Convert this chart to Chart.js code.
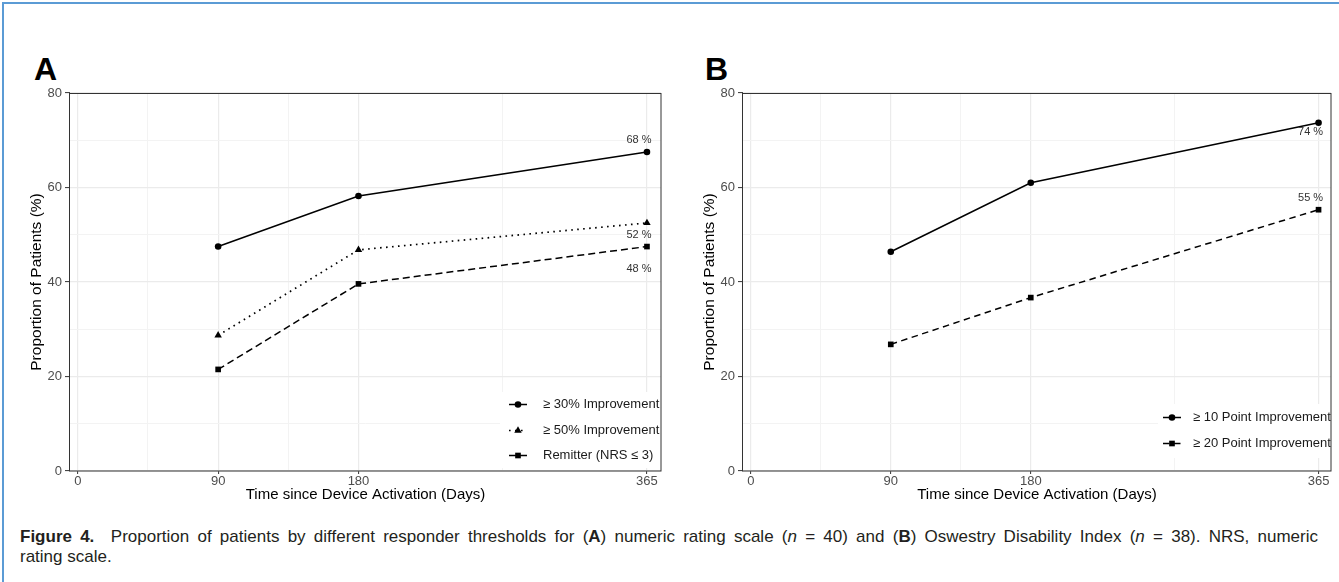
<!DOCTYPE html>
<html>
<head>
<meta charset="utf-8">
<script src="https://cdn.jsdelivr.net/npm/chart.js@4.4.0/dist/chart.umd.min.js"></script>
<style>
  body { margin: 0; width: 1339px; height: 582px; overflow: hidden; position: relative; background: #fff;
         font-family: 'Liberation Sans', Arial, sans-serif; }
  .frame { position: absolute; left: 2px; top: 2px; width: 1400px; height: 700px;
           border-left: 2px solid #5b9bd5; border-top: 2px solid #5b9bd5; }
  .panel-tag { position: absolute; top: 53px; font-size: 32px; line-height: 32px; font-weight: bold; color: #000; }
  canvas { position: absolute; }
  .caption { position: absolute; left: 20px; width: 1298px; font-size: 17px; line-height: 20px; color: #231f20; white-space: nowrap; }
  .caption.first { top: 527px; text-align: justify; text-align-last: justify; white-space: normal; }
  .caption.second { top: 547px; }
</style>
</head>
<body>
<div class="frame"></div>
<div class="panel-tag" style="left:34px">A</div>
<div class="panel-tag" style="left:705px">B</div>
<canvas id="chart-a" width="680" height="430" style="left:0;top:80px"></canvas>
<canvas id="chart-b" width="666" height="430" style="left:673px;top:80px"></canvas>
<div class="caption first"><b>Figure 4.</b>&nbsp; Proportion of patients by different responder thresholds for (<b>A</b>) numeric rating scale (<i>n</i> = 40) and (<b>B</b>) Oswestry Disability Index (<i>n</i> = 38). NRS, numeric</div>
<div class="caption second">rating scale.</div>

<script>
// time points and axis ticks
const days = [90, 180, 365];
const xTickDays = [0, 90, 180, 365];
const xGridDays = [0, 45, 90, 135, 180, 272.5, 365];
const yTickValues = [0, 20, 40, 60, 80];

// panel A: numeric rating scale (n = 40)
const nrsLabels = ['≥ 30% Improvement', '≥ 50% Improvement', 'Remitter (NRS ≤ 3)'];
const nrs30 = [47.5, 58.2, 67.5];
const nrs50 = [28.7, 46.8, 52.5];
const nrsRemitter = [21.5, 39.6, 47.5];
const nrsEndLabels = ['68 %', '52 %', '48 %'];

// panel B: Oswestry Disability Index (n = 38)
const odiLabels = ['≥ 10 Point Improvement', '≥ 20 Point Improvement'];
const odi10 = [46.4, 61.0, 73.7];
const odi20 = [26.8, 36.7, 55.3];
const odiEndLabels = ['74 %', '55 %'];

Chart.defaults.font.family = "'Liberation Sans', Arial, sans-serif";

const createSeries = (label, values, endLabel, style) => {
  return {
    label: label,
    data: days.map((d, i) => ({ x: d, y: values[i] })),
    endLabel: endLabel,
    borderColor: '#000',
    backgroundColor: '#000',
    borderWidth: 1.5,
    pointBackgroundColor: '#000',
    pointBorderColor: '#000',
    pointBorderWidth: 0,
    ...style,
  };
};

const solid = { borderDash: [], pointStyle: 'circle', pointRadius: 3.3 };
const dotted = { borderDash: [1.6, 4.4], borderWidth: 1.7, pointStyle: 'triangle', pointRadius: 4.3 };
const dashed = { borderDash: [7, 4], pointStyle: 'rect', pointRadius: 4 };

// full grey border round the plotting panel
const panelFrame = {
  id: 'panelFrame',
  afterDraw(chart) {
    const { ctx, chartArea: a } = chart;
    ctx.save();
    ctx.strokeStyle = '#333';
    ctx.lineWidth = 1;
    ctx.strokeRect(Math.round(a.left) - 0.5, Math.round(a.top) + 0.5,
      Math.round(a.right - a.left) + 0.5, Math.round(a.bottom - a.top) - 0.5);
    ctx.restore();
  },
};

// percentage text next to the last point of each line
const endLabels = {
  id: 'endLabels',
  afterDatasetsDraw(chart) {
    const ctx = chart.ctx;
    ctx.save();
    ctx.font = "11px 'Liberation Sans', Arial, sans-serif";
    ctx.fillStyle = '#333';
    ctx.textAlign = 'center';
    ctx.textBaseline = 'middle';
    chart.data.datasets.forEach((ds, i) => {
      const pts = chart.getDatasetMeta(i).data;
      const last = pts[pts.length - 1];
      ctx.fillText(ds.endLabel, last.x - 8, last.y + ds.endDy);
    });
    ctx.restore();
  },
};

// ggplot-like legend: line sample with marker, inside bottom-right of panel
const lineLegend = {
  id: 'lineLegend',
  afterDatasetsDraw(chart, args, opts) {
    const { ctx, chartArea: a } = chart;
    const left = a.right - opts.boxWidth;
    const top = a.bottom - opts.bottomGap - opts.boxHeight;
    ctx.save();
    ctx.fillStyle = '#fff';
    ctx.fillRect(left, top, opts.boxWidth, opts.boxHeight);
    chart.data.datasets.forEach((ds, i) => {
      const y = Math.round(top + opts.firstRow + i * opts.rowGap) + 0.5;
      ctx.strokeStyle = ds.borderColor;
      ctx.lineWidth = ds.borderWidth;
      ctx.setLineDash(ds.borderDash);
      ctx.beginPath();
      ctx.moveTo(left + opts.lineStart, y);
      ctx.lineTo(left + opts.lineEnd, y);
      ctx.stroke();
      ctx.setLineDash([]);
      ctx.fillStyle = ds.pointBackgroundColor;
      Chart.helpers.drawPoint(ctx, {
        pointStyle: ds.pointStyle, radius: ds.pointRadius, rotation: 0, borderWidth: 0,
      }, left + (opts.lineStart + opts.lineEnd) / 2, y);
      ctx.fillStyle = '#1a1a1a';
      ctx.font = "13px 'Liberation Sans', Arial, sans-serif";
      ctx.textAlign = 'left';
      ctx.textBaseline = 'middle';
      ctx.fillText(ds.label, left + opts.textX, y);
    });
    ctx.restore();
  },
};

const buildScales = (xMax) => {
  return {
    x: {
      type: 'linear',
      min: -5,
      max: xMax,
      afterBuildTicks: (scale) => { scale.ticks = xGridDays.map((v) => ({ value: v })); },
      afterFit: (scale) => { scale.height = 33; },
      border: { display: false },
      grid: {
        color: (c) => (xTickDays.includes(c.tick.value) ? '#ebebeb' : '#f3f3f3'),
        lineWidth: (c) => (xTickDays.includes(c.tick.value) ? 1.2 : 1),
        tickLength: 3,
        tickWidth: 1,
        tickColor: (c) => (xTickDays.includes(c.tick.value) ? '#333' : 'rgba(0,0,0,0)'),
      },
      ticks: {
        autoSkip: false,
        maxRotation: 0,
        padding: 0,
        color: '#4d4d4d',
        font: { size: 13 },
        callback: (v) => (xTickDays.includes(v) ? String(v) : ''),
      },
      title: {
        display: true,
        text: 'Time since Device Activation (Days)',
        color: '#000',
        font: { size: 15 },
        padding: 0,
      },
    },
    y: {
      min: 0,
      max: 80,
      afterFit: (scale) => { scale.width = 43; },
      border: { display: false },
      grid: {
        color: (c) => (yTickValues.includes(c.tick.value) ? '#ebebeb' : '#f3f3f3'),
        lineWidth: (c) => (yTickValues.includes(c.tick.value) ? 1.2 : 1),
        tickLength: 5,
        tickWidth: 1,
        tickColor: (c) => (yTickValues.includes(c.tick.value) ? '#333' : 'rgba(0,0,0,0)'),
      },
      ticks: {
        stepSize: 10,
        padding: 3,
        color: '#4d4d4d',
        font: { size: 13 },
        callback: (v) => (yTickValues.includes(v) ? String(v) : ''),
      },
      title: {
        display: true,
        text: 'Proportion of Patients (%)',
        color: '#000',
        font: { size: 15.5 },
        padding: 0,
      },
    },
  };
};

(function () {
  const seriesA = [
    createSeries(nrsLabels[0], nrs30, nrsEndLabels[0], { ...solid, endDy: -12 }),
    createSeries(nrsLabels[1], nrs50, nrsEndLabels[1], { ...dotted, endDy: 12 }),
    createSeries(nrsLabels[2], nrsRemitter, nrsEndLabels[2], { ...dashed, endDy: 22 }),
  ];

  new Chart(document.getElementById('chart-a'), {
    type: 'line',
    data: { datasets: seriesA },
    options: {
      responsive: false,
      animation: false,
      devicePixelRatio: 1,
      layout: { padding: { left: 27, right: 19, top: 13, bottom: 6 } },
      scales: buildScales(374),
      plugins: {
        legend: { display: false },
        tooltip: { enabled: false },
        lineLegend: { boxWidth: 161, boxHeight: 76, bottomGap: 3, firstRow: 12, rowGap: 25.5, lineStart: 9, lineEnd: 27, textX: 43 },
      },
    },
    plugins: [lineLegend, endLabels, panelFrame],
  });

  const seriesB = [
    createSeries(odiLabels[0], odi10, odiEndLabels[0], { ...solid, endDy: 9 }),
    createSeries(odiLabels[1], odi20, odiEndLabels[1], { ...dashed, borderDash: [6.5, 4.5], endDy: -12 }),
  ];

  new Chart(document.getElementById('chart-b'), {
    type: 'line',
    data: { datasets: seriesB },
    options: {
      responsive: false,
      animation: false,
      devicePixelRatio: 1,
      layout: { padding: { left: 27, right: 8, top: 13, bottom: 6 } },
      scales: buildScales(373),
      plugins: {
        legend: { display: false },
        tooltip: { enabled: false },
        lineLegend: { boxWidth: 173, boxHeight: 54, bottomGap: 13, firstRow: 13, rowGap: 26, lineStart: 5, lineEnd: 23, textX: 35 },
      },
    },
    plugins: [lineLegend, endLabels, panelFrame],
  });
})();
</script>
</body>
</html>
